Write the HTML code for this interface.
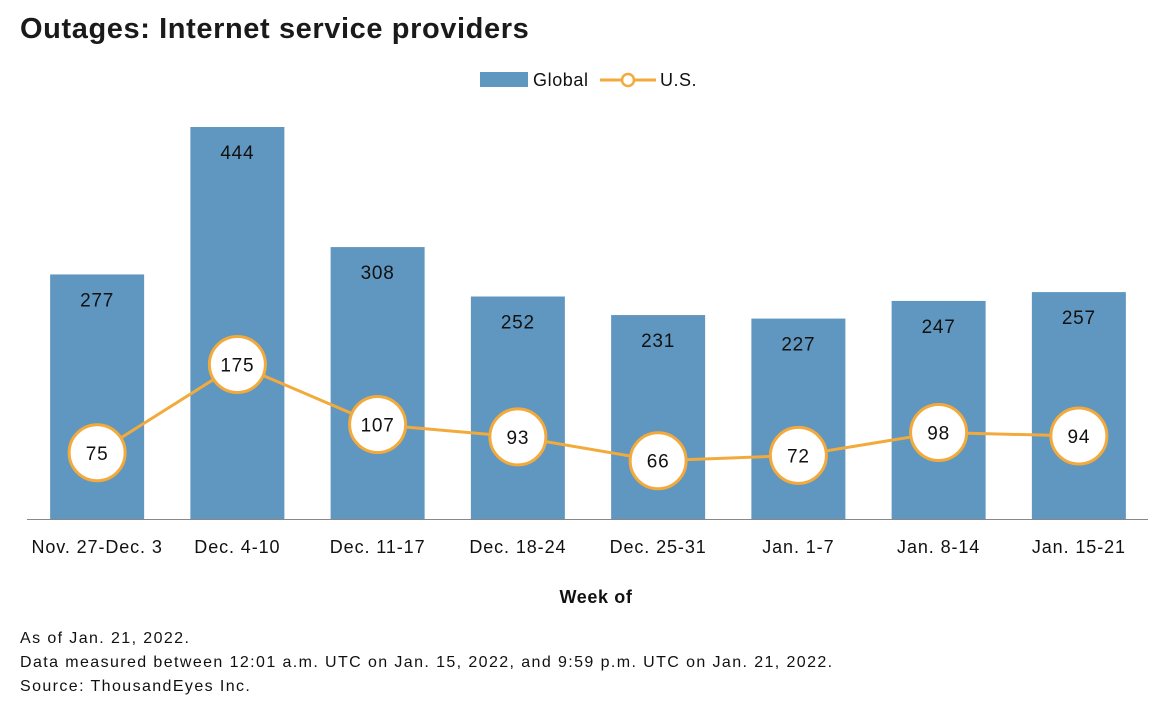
<!DOCTYPE html>
<html><head><meta charset="utf-8"><style>
body{margin:0;width:1176px;height:720px;background:#fff;font-family:"Liberation Sans",sans-serif;overflow:hidden;position:relative}
.t{position:absolute;left:20px;top:13px;font-size:29px;font-weight:bold;color:#1a1a1a;letter-spacing:0.6px}
.f{position:absolute;left:20px;font-size:16px;color:#111;letter-spacing:1.4px}
</style></head><body>
<div class="t">Outages: Internet service providers</div>
<svg id="c" width="1176" height="720" style="position:absolute;left:0;top:0"></svg>
<div class="f" style="top:630px">As of Jan. 21, 2022.</div>
<div class="f" style="top:654px">Data measured between 12:01 a.m. UTC on Jan. 15, 2022, and 9:59 p.m. UTC on Jan. 21, 2022.</div>
<div class="f" style="top:678px">Source: ThousandEyes Inc.</div>
<script>
const categories=["Nov. 27-Dec. 3","Dec. 4-10","Dec. 11-17","Dec. 18-24","Dec. 25-31","Jan. 1-7","Jan. 8-14","Jan. 15-21"];
const globalValues=[277,444,308,252,231,227,247,257];
const usValues=[75,175,107,93,66,72,98,94];
const svg=document.getElementById('c');const NS='http://www.w3.org/2000/svg';
function mk(t,a,p){const e=document.createElementNS(NS,t);for(const k in a)e.setAttribute(k,a[k]);(p||svg).appendChild(e);return e;}
const base=519,k=392/444,x0=27,step=140.25,bw=94;
const y=v=>base-v*k;const xc=i=>x0+step*(i+0.5);
let lg=mk('rect',{x:480,y:72,width:48,height:15,fill:'#6097c0'});


let t=mk('text',{x:533,y:86,'font-size':18,fill:'#111','letter-spacing':0.6});t.textContent='Global';


mk('line',{x1:600,y1:80,x2:656,y2:80,stroke:'#f3aa3c','stroke-width':3});
mk('circle',{cx:628,cy:80,r:6,fill:'#fff',stroke:'#f3aa3c','stroke-width':2.5});
t=mk('text',{x:660,y:86,'font-size':18,fill:'#111','letter-spacing':0.5});t.textContent='U.S.';


globalValues.forEach((v,i)=>{
 const r=mk('rect',{x:xc(i)-bw/2,y:y(v),width:bw,height:base-y(v),fill:'#6097c0'});
 
 
 const tx=mk('text',{x:xc(i),y:y(v)+32,'font-size':19,'text-anchor':'middle',fill:'#111','letter-spacing':0.8});tx.textContent=v;
 
 
 const c=mk('text',{x:xc(i),y:553,'font-size':18,'text-anchor':'middle',fill:'#111','letter-spacing':0.9});c.textContent=categories[i];
 
 
});
const ax=mk('line',{x1:27,y1:base+0.5,x2:1148,y2:base+0.5,stroke:'#888','stroke-width':1});


const pl=mk('polyline',{points:usValues.map((v,i)=>xc(i)+','+y(v)).join(' '),fill:'none',stroke:'#f3aa3c','stroke-width':3});


usValues.forEach((v,i)=>{
 const c=mk('circle',{cx:xc(i),cy:y(v),r:28,fill:'#fff',stroke:'#f3aa3c','stroke-width':3});
 
 
 const tx=mk('text',{x:xc(i),y:y(v)+7,'font-size':19,'text-anchor':'middle',fill:'#111','letter-spacing':0.8});tx.textContent=v;
 
 
});
t=mk('text',{x:596,y:603,'font-size':18,'font-weight':'bold','text-anchor':'middle',fill:'#111','letter-spacing':0.6});t.textContent='Week of';


</script>
</body></html>
